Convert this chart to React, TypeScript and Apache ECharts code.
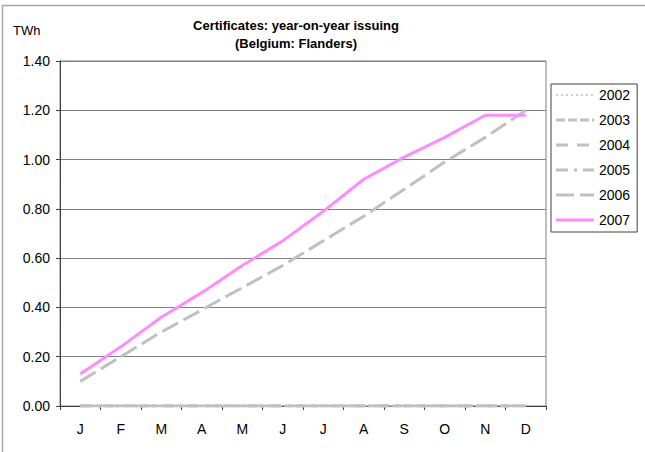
import React, { useEffect, useRef } from "react";
import * as echarts from "echarts";

const months = ["J", "F", "M", "A", "M", "J", "J", "A", "S", "O", "N", "D"];
const years = ["2002", "2003", "2004", "2005", "2006", "2007"];
const y2002 = [0, 0, 0, 0, 0, 0, 0, 0, 0, 0, 0, 0];
const y2003 = [0, 0, 0, 0, 0, 0, 0, 0, 0, 0, 0, 0];
const y2004 = [0, 0, 0, 0, 0, 0, 0, 0, 0, 0, 0, 0];
const y2005 = [0, 0, 0, 0, 0, 0, 0, 0, 0, 0, 0, 0];
const y2006 = [0.1, 0.2, 0.3, 0.39, 0.48, 0.57, 0.67, 0.77, 0.88, 0.99, 1.09, 1.2];
const y2007 = [0.13, 0.24, 0.36, 0.46, 0.57, 0.67, 0.79, 0.92, 1.01, 1.09, 1.18, 1.18];
const yTicks = { min: 0, max: 1.4, interval: 0.2 };

const GRAY = "#c0c0c0";
const PINK = "#ff8cff";
const FONT = "Liberation Sans, Arial, sans-serif";

export default function App() {
  const ref = useRef<HTMLDivElement>(null);
  useEffect(() => {
    if (!ref.current) return;
    const chart = echarts.init(ref.current, undefined, { renderer: "svg" });
    const values = [y2002, y2003, y2004, y2005, y2006, y2007];
    const styles: any[] = [
      { color: GRAY, width: 1.5, type: [2, 3] },
      { color: GRAY, width: 3, type: [9, 3] },
      { color: GRAY, width: 3, type: [12, 9] },
      { color: GRAY, width: 3, type: [12, 6, 3, 6] },
      { color: GRAY, width: 3, type: [18, 6] },
      { color: PINK, width: 3, type: "solid" },
    ];
    const legendTop = 84;
    const legendPadTop = 4;
    const itemH = 14;
    const itemGap = 11;
    const legendSamples = styles.map((s, i) => ({
      type: "line",
      silent: true,
      z: 100,
      shape: {
        x1: 556,
        x2: 594,
        y1: legendTop + legendPadTop + itemH / 2 + i * (itemH + itemGap),
        y2: legendTop + legendPadTop + itemH / 2 + i * (itemH + itemGap),
      },
      style: {
        stroke: s.color,
        lineWidth: s.width,
        lineDash: s.type === "solid" ? null : s.type,
      },
    }));
    chart.setOption({
      animation: false,
      textStyle: { fontFamily: FONT },
      grid: {
        left: 60,
        top: 61,
        right: 99,
        bottom: 46,
        show: true,
        borderColor: "#808080",
        borderWidth: 1,
      },
      graphic: [
        {
          type: "rect",
          shape: { x: 2.5, y: 5.5, width: 800, height: 600 },
          style: { fill: "none", stroke: "#a6a6a6", lineWidth: 1.5 },
          silent: true,
        },
        {
          type: "text",
          x: 296,
          y: 16,
          style: {
            text: "Certificates: year-on-year issuing\n(Belgium: Flanders)",
            textAlign: "center",
            fontSize: 13,
            fontWeight: "bold",
            lineHeight: 18,
            fill: "#000",
            fontFamily: FONT,
          },
        },
        {
          type: "text",
          x: 13,
          y: 24,
          style: {
            text: "TWh",
            fontSize: 13,
            fill: "#000",
            fontFamily: FONT,
          },
        },
        ...legendSamples,
      ],
      legend: {
        orient: "vertical",
        left: 551,
        top: legendTop,
        padding: [legendPadTop, 7, 5, 5],
        itemWidth: 38,
        itemHeight: itemH,
        itemGap: itemGap,
        borderColor: "#404040",
        borderWidth: 1,
        data: years.map((name) => ({ name, icon: "none" })),
        textStyle: { fontSize: 14, color: "#000", padding: [0, 0, 0, 0] },
      },
      xAxis: {
        type: "category",
        data: months,
        boundaryGap: true,
        axisLine: { lineStyle: { color: "#404040", width: 1 } },
        axisTick: { show: true, length: 4, lineStyle: { color: "#404040" } },
        axisLabel: { color: "#000", fontSize: 14, margin: 16 },
        splitLine: { show: false },
      },
      yAxis: {
        type: "value",
        min: yTicks.min,
        max: yTicks.max,
        interval: yTicks.interval,
        axisLine: { show: true, lineStyle: { color: "#404040", width: 1 } },
        axisTick: { show: true, length: 4, lineStyle: { color: "#404040" } },
        axisLabel: {
          color: "#000",
          fontSize: 14,
          margin: 10,
          formatter: (v: number) => v.toFixed(2),
        },
        splitLine: { show: true, lineStyle: { color: "#808080", width: 1 } },
      },
      series: years.map((name, i) => ({
        name,
        type: "line",
        data: values[i],
        symbol: "none",
        z: i === 5 ? 5 : 3,
        lineStyle: styles[i],
        itemStyle: { color: styles[i].color },
      })),
    });
    return () => chart.dispose();
  }, []);
  return (
    <div
      ref={ref}
      style={{ position: "absolute", left: 0, top: 0, width: 645, height: 452, background: "#fff" }}
    />
  );
}
